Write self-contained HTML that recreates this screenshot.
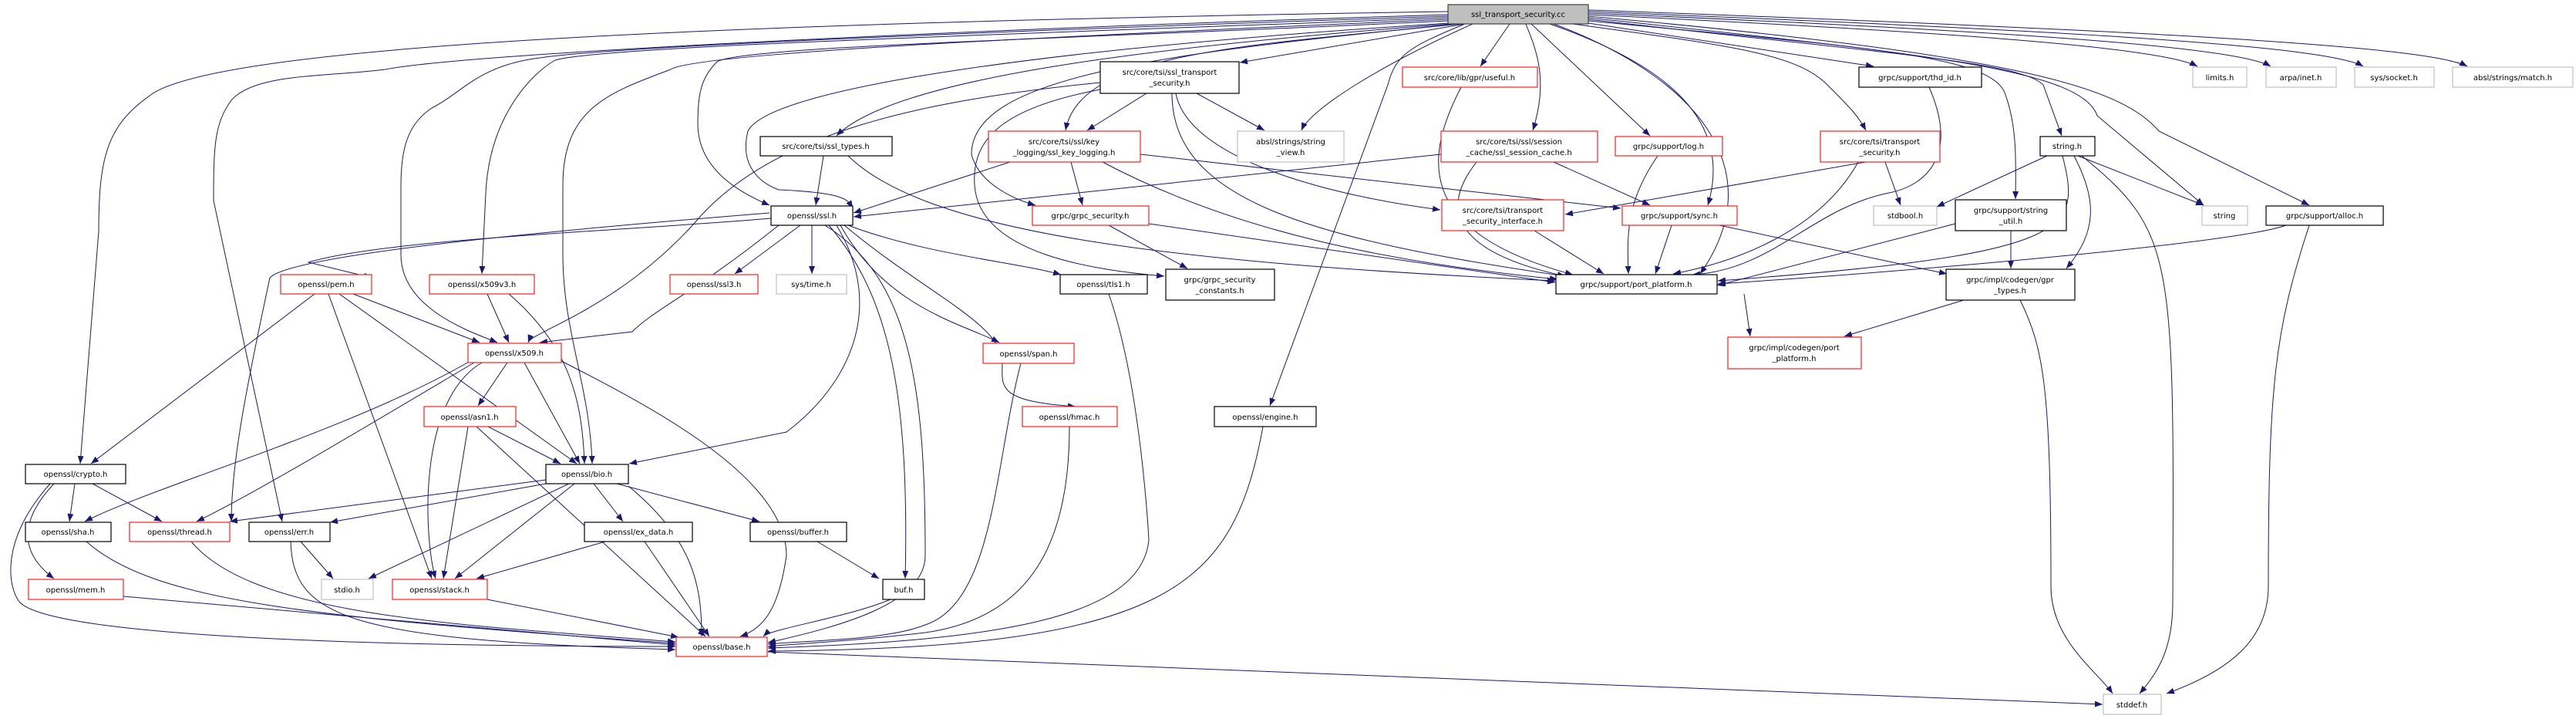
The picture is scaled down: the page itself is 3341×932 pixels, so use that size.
<!DOCTYPE html>
<html><head><meta charset="utf-8"><style>
html,body{margin:0;padding:0;background:#fff;}
svg{display:block;}
text{font-family:"DejaVu Sans","Liberation Sans",sans-serif;font-size:10px;fill:#000;text-anchor:middle;}
.e{fill:none;stroke:#191970;stroke-width:1;marker-end:url(#a);}
.n{fill:#fff;stroke:#000;stroke-width:1.2;}
.r{fill:#fff;stroke:#ff2020;stroke-width:1.2;}
.g{fill:#fff;stroke:#c0c0c0;stroke-width:1.2;}
</style></head><body>
<svg width="3341" height="932" viewBox="0 0 3341 932" xmlns="http://www.w3.org/2000/svg">
<defs><marker id="a" markerUnits="userSpaceOnUse" markerWidth="11" markerHeight="8" refX="10" refY="4" orient="auto"><path d="M0,0 L10,4 L0,8 z" fill="#191970"/></marker></defs>
<g>
<path class="e" d="M1878,15 C900,30 300,60 200,120 C140,160 128,200 128,300 L104,601"/>
<path class="e" d="M1878,19 C1200,40 600,70 500,90 C420,100 330,95 300,130 C278,160 277,190 277,260 L366,676"/>
<path class="e" d="M1878,21 C1300,40 800,60 700,75 C620,85 600,120 560,140 C530,160 520,190 520,240 L520,330 C520,400 610,430 645,444"/>
<path class="e" d="M1878,23 C1300,45 780,60 720,78 C690,95 635,150 630,250 L625,355"/>
<path class="e" d="M1878,25 C1300,50 900,70 870,90 C790,120 730,140 730,240 L730,330 C730,430 765,500 768,601"/>
<path class="e" d="M1878,27 C1400,50 960,60 930,80 C910,100 905,120 905,160 C905,220 960,250 998,266"/>
<path class="e" d="M1880,30 C1400,60 1000,110 970,170 C960,210 980,235 1010,246 C1100,250 1100,260 1106,270"/>
<path class="e" d="M1882,31 C1500,60 1160,100 1085,176"/>
<path class="e" d="M1895,31 C1600,60 1400,70 1382,169"/>
<path class="e" d="M1900,31 L1608,81"/>
<path class="e" d="M1890,31 C1500,70 1260,100 1260,200 C1270,240 1320,260 1343,266"/>
<path class="e" d="M1910,31 C1800,80 1700,140 1688,169"/>
<path class="e" d="M1958,31 L1920,86"/>
<path class="e" d="M1900,31 C1830,60 1810,70 1800,110 L1647,526"/>
<path class="e" d="M1979,31 C1990,60 2010,100 1988,169"/>
<path class="e" d="M1986,31 L2140,176"/>
<path class="e" d="M2010,31 C2150,80 2250,150 2215,266"/>
<path class="e" d="M2015,31 C2200,100 2300,220 2205,355"/>
<path class="e" d="M2040,31 C2250,60 2330,70 2370,110 C2400,140 2410,150 2420,169"/>
<path class="e" d="M2060,30 L2430,86"/>
<path class="e" d="M2060,27 C2400,60 2580,70 2600,120 C2615,160 2615,200 2614,258"/>
<path class="e" d="M2060,25 C2450,70 2620,80 2650,110 L2674,176"/>
<path class="e" d="M2060,23 C2500,70 2700,90 2720,150 L2858,266"/>
<path class="e" d="M2060,21 C2600,70 2750,110 2800,170 L2995,266"/>
<path class="e" d="M2060,19 C2500,40 2800,60 2850,86"/>
<path class="e" d="M2060,17 C2600,40 2900,60 2945,86"/>
<path class="e" d="M2060,15 C2700,40 3020,60 3065,86"/>
<path class="e" d="M2060,13 C2800,40 3150,60 3200,86"/>
<path class="e" d="M1487,121 L1410,169"/>
<path class="e" d="M1552,121 L1640,169"/>
<path class="e" d="M1525,121 C1540,200 1700,250 1868,272"/>
<path class="e" d="M1520,121 C1520,260 1700,310 2030,358"/>
<path class="e" d="M1427,107 C1200,130 1000,170 900,290 C800,400 690,430 685,444"/>
<path class="e" d="M1427,116 C1300,140 1260,180 1264,240 C1270,330 1420,350 1510,358"/>
<path class="e" d="M1310,210 L1107,276"/>
<path class="e" d="M1389,210 L1404,266"/>
<path class="e" d="M1479,200 L2102,270"/>
<path class="e" d="M1430,210 C1600,300 1800,340 2020,362"/>
<path class="e" d="M1068,202 L1058,266"/>
<path class="e" d="M1100,202 C1200,300 1500,340 2017,364"/>
<path class="e" d="M1869,200 L1107,281"/>
<path class="e" d="M1915,210 C1860,280 1900,330 2030,358"/>
<path class="e" d="M2015,210 L2140,266"/>
<path class="e" d="M1895,113 C1850,200 1830,300 2040,356"/>
<path class="e" d="M2150,202 C2110,260 2110,300 2112,355"/>
<path class="e" d="M2420,210 L2030,278"/>
<path class="e" d="M2410,210 C2360,300 2250,340 2170,355"/>
<path class="e" d="M2445,210 L2465,266"/>
<path class="e" d="M2168,292 L2147,355"/>
<path class="e" d="M2230,292 L2525,355"/>
<path class="e" d="M2502,113 C2540,200 2500,240 2450,250 C2350,270 2300,350 2195,356"/>
<path class="e" d="M2655,202 L2512,268"/>
<path class="e" d="M2695,202 L2858,266"/>
<path class="e" d="M2690,202 C2720,260 2720,300 2680,348"/>
<path class="e" d="M2675,202 C2700,300 2690,330 2228,364"/>
<path class="e" d="M2700,202 C2820,300 2820,330 2818,780 C2818,840 2800,870 2775,899"/>
<path class="e" d="M2536,290 L2227,370"/>
<path class="e" d="M2608,299 L2608,348"/>
<path class="e" d="M2965,292 C2900,315 2500,350 2228,368"/>
<path class="e" d="M2995,292 C2950,430 2942,500 2942,760 C2942,830 2890,870 2810,899"/>
<path class="e" d="M2547,389 L2392,436"/>
<path class="e" d="M2620,389 C2650,450 2660,500 2660,760 C2660,830 2720,870 2740,899"/>
<path class="e" d="M2262,381 L2270,436"/>
<path class="e" d="M1990,299 L2080,355"/>
<path class="e" d="M1490,290 L2017,366"/>
<path class="e" d="M1438,292 L1540,348"/>
<path class="e" d="M1000,283 C800,300 500,310 400,340 L482,360"/>
<path class="e" d="M998,276 C700,300 380,330 350,360 C320,500 300,600 300,676"/>
<path class="e" d="M1010,292 C900,380 850,400 820,430 L700,444"/>
<path class="e" d="M1038,292 L953,355"/>
<path class="e" d="M1053,292 L1053,355"/>
<path class="e" d="M1090,292 C1150,400 1250,420 1296,444"/>
<path class="e" d="M1100,292 C1200,330 1320,340 1376,356"/>
<path class="e" d="M1095,292 C1200,380 1300,420 1300,470 C1300,500 1290,520 1395,527"/>
<path class="e" d="M1075,292 C1150,380 1180,500 1174,750"/>
<path class="e" d="M1085,292 C1150,400 1100,500 1020,560 L816,601"/>
<path class="e" d="M1070,292 C1180,360 1200,500 1200,720 C1200,780 1100,810 996,833"/>
<path class="e" d="M458,381 L622,444"/>
<path class="e" d="M408,381 L118,601"/>
<path class="e" d="M426,381 L560,750"/>
<path class="e" d="M440,381 L748,601"/>
<path class="e" d="M632,381 L660,444"/>
<path class="e" d="M660,381 C740,450 755,520 758,601"/>
<path class="e" d="M658,470 L620,526"/>
<path class="e" d="M680,470 L752,601"/>
<path class="e" d="M625,470 C540,520 550,700 565,750"/>
<path class="e" d="M615,470 C480,550 330,640 255,676"/>
<path class="e" d="M610,468 C450,560 200,630 110,676"/>
<path class="e" d="M728,468 C850,530 1020,620 1020,720 C1010,790 990,815 960,825"/>
<path class="e" d="M633,553 L727,601"/>
<path class="e" d="M607,553 L575,750"/>
<path class="e" d="M618,553 L915,825"/>
<path class="e" d="M97,627 L90,676"/>
<path class="e" d="M120,627 L210,676"/>
<path class="e" d="M70,627 C20,680 30,720 70,750"/>
<path class="e" d="M65,627 C0,700 10,760 25,780 C60,820 400,838 876,838"/>
<path class="e" d="M708,622 L298,676"/>
<path class="e" d="M708,627 L428,677"/>
<path class="e" d="M738,627 L478,750"/>
<path class="e" d="M745,627 L590,750"/>
<path class="e" d="M770,627 L808,676"/>
<path class="e" d="M800,627 L985,676"/>
<path class="e" d="M815,630 C900,700 910,760 910,825"/>
<path class="e" d="M785,702 L618,750"/>
<path class="e" d="M836,702 L920,825"/>
<path class="e" d="M1060,702 L1140,750"/>
<path class="e" d="M1155,777 C1100,800 1000,815 990,825"/>
<path class="e" d="M390,702 L432,750"/>
<path class="e" d="M377,702 C380,800 450,830 876,842"/>
<path class="e" d="M112,702 C200,780 400,800 876,834"/>
<path class="e" d="M248,702 C330,800 600,810 876,832"/>
<path class="e" d="M160,773 L876,836"/>
<path class="e" d="M632,777 L880,826"/>
<path class="e" d="M1324,471 C1290,600 1290,780 1200,810 C1150,830 1050,830 996,835"/>
<path class="e" d="M1387,553 C1387,700 1340,800 1200,820 C1100,832 1020,835 996,838"/>
<path class="e" d="M1438,381 C1480,500 1490,700 1490,700 C1480,800 1300,830 996,840"/>
<path class="e" d="M1638,553 C1600,760 1520,840 996,844"/>
<path class="e" d="M996,845 L2727,913"/>
</g>
<g>
<rect x="1878" y="6" width="182" height="25" fill="#bfbfbf" stroke="#404040" stroke-width="1.2"/><text x="1969" y="22">ssl_transport_security.cc</text>
<rect class="n" x="1427" y="80" width="180" height="41"/><text x="1517" y="97">src/core/tsi/ssl_transport</text><text x="1517" y="111">_security.h</text>
<rect class="r" x="1819" y="87" width="175" height="26"/><text x="1906" y="104">src/core/lib/gpr/useful.h</text>
<rect class="n" x="2411" y="87" width="159" height="26"/><text x="2490" y="104">grpc/support/thd_id.h</text>
<rect class="g" x="2844" y="87" width="70" height="26"/><text x="2879" y="104">limits.h</text>
<rect class="g" x="2939" y="87" width="91" height="26"/><text x="2984" y="104">arpa/inet.h</text>
<rect class="g" x="3054" y="87" width="103" height="26"/><text x="3105" y="104">sys/socket.h</text>
<rect class="g" x="3181" y="87" width="156" height="26"/><text x="3259" y="104">absl/strings/match.h</text>
<rect class="n" x="986" y="177" width="171" height="25"/><text x="1071" y="193">src/core/tsi/ssl_types.h</text>
<rect class="r" x="1282" y="170" width="197" height="40"/><text x="1380" y="187">src/core/tsi/ssl/key</text><text x="1380" y="201">_logging/ssl_key_logging.h</text>
<rect class="g" x="1605" y="170" width="138" height="40"/><text x="1674" y="187">absl/strings/string</text><text x="1674" y="201">_view.h</text>
<rect class="r" x="1869" y="170" width="203" height="40"/><text x="1970" y="187">src/core/tsi/ssl/session</text><text x="1970" y="201">_cache/ssl_session_cache.h</text>
<rect class="r" x="2095" y="177" width="139" height="25"/><text x="2164" y="193">grpc/support/log.h</text>
<rect class="r" x="2361" y="170" width="155" height="40"/><text x="2438" y="187">src/core/tsi/transport</text><text x="2438" y="201">_security.h</text>
<rect class="n" x="2646" y="177" width="71" height="25"/><text x="2681" y="193">string.h</text>
<rect class="n" x="1000" y="267" width="106" height="25"/><text x="1053" y="283">openssl/ssl.h</text>
<rect class="r" x="1339" y="267" width="151" height="25"/><text x="1414" y="283">grpc/grpc_security.h</text>
<rect class="r" x="1870" y="259" width="158" height="40"/><text x="1949" y="276">src/core/tsi/transport</text><text x="1949" y="290">_security_interface.h</text>
<rect class="r" x="2104" y="267" width="149" height="25"/><text x="2178" y="283">grpc/support/sync.h</text>
<rect class="g" x="2430" y="267" width="82" height="25"/><text x="2471" y="283">stdbool.h</text>
<rect class="n" x="2536" y="259" width="144" height="40"/><text x="2608" y="276">grpc/support/string</text><text x="2608" y="290">_util.h</text>
<rect class="g" x="2856" y="267" width="59" height="25"/><text x="2885" y="283">string</text>
<rect class="n" x="2939" y="267" width="152" height="25"/><text x="3015" y="283">grpc/support/alloc.h</text>
<rect class="r" x="364" y="356" width="118" height="25"/><text x="423" y="372">openssl/pem.h</text>
<rect class="r" x="557" y="356" width="136" height="25"/><text x="625" y="372">openssl/x509v3.h</text>
<rect class="r" x="869" y="356" width="114" height="25"/><text x="926" y="372">openssl/ssl3.h</text>
<rect class="g" x="1007" y="356" width="91" height="25"/><text x="1052" y="372">sys/time.h</text>
<rect class="n" x="1375" y="356" width="113" height="25"/><text x="1431" y="372">openssl/tls1.h</text>
<rect class="n" x="1512" y="349" width="141" height="40"/><text x="1582" y="366">grpc/grpc_security</text><text x="1582" y="380">_constants.h</text>
<rect class="n" x="2018" y="356" width="209" height="25"/><text x="2122" y="372">grpc/support/port_platform.h</text>
<rect class="n" x="2524" y="349" width="167" height="40"/><text x="2607" y="366">grpc/impl/codegen/gpr</text><text x="2607" y="380">_types.h</text>
<rect class="r" x="607" y="445" width="121" height="25"/><text x="667" y="461">openssl/x509.h</text>
<rect class="r" x="1275" y="445" width="118" height="26"/><text x="1334" y="462">openssl/span.h</text>
<rect class="r" x="2241" y="437" width="173" height="41"/><text x="2327" y="454">grpc/impl/codegen/port</text><text x="2327" y="468">_platform.h</text>
<rect class="r" x="550" y="527" width="119" height="26"/><text x="609" y="544">openssl/asn1.h</text>
<rect class="r" x="1326" y="527" width="123" height="26"/><text x="1387" y="544">openssl/hmac.h</text>
<rect class="n" x="1575" y="527" width="132" height="26"/><text x="1641" y="544">openssl/engine.h</text>
<rect class="n" x="33" y="602" width="130" height="25"/><text x="98" y="618">openssl/crypto.h</text>
<rect class="n" x="708" y="602" width="107" height="25"/><text x="761" y="618">openssl/bio.h</text>
<rect class="n" x="33" y="677" width="111" height="25"/><text x="88" y="693">openssl/sha.h</text>
<rect class="r" x="168" y="677" width="130" height="25"/><text x="233" y="693">openssl/thread.h</text>
<rect class="n" x="323" y="677" width="105" height="25"/><text x="375" y="693">openssl/err.h</text>
<rect class="n" x="758" y="677" width="140" height="25"/><text x="828" y="693">openssl/ex_data.h</text>
<rect class="n" x="973" y="677" width="125" height="25"/><text x="1035" y="693">openssl/buffer.h</text>
<rect class="r" x="37" y="751" width="123" height="26"/><text x="98" y="768">openssl/mem.h</text>
<rect class="g" x="417" y="751" width="67" height="26"/><text x="450" y="768">stdio.h</text>
<rect class="r" x="509" y="751" width="123" height="26"/><text x="570" y="768">openssl/stack.h</text>
<rect class="n" x="1145" y="751" width="54" height="26"/><text x="1172" y="768">buf.h</text>
<rect class="r" x="877" y="826" width="118" height="25"/><text x="936" y="842">openssl/base.h</text>
<rect class="g" x="2728" y="900" width="75" height="26"/><text x="2765" y="917">stddef.h</text>
</g>
</svg>
</body></html>
